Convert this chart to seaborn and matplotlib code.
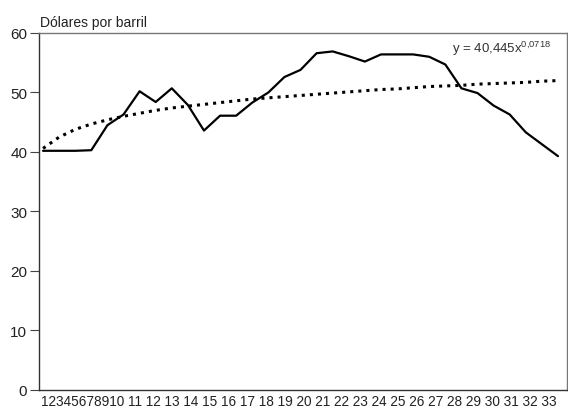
import numpy as np
import pandas as pd
import matplotlib
matplotlib.use("Agg")
import matplotlib.pyplot as plt
import seaborn as sns

# 数据：从参考图中读取
semanas = list(range(1, 34))
precio = [40.2, 40.2, 40.2, 40.3, 44.5, 46.3, 50.2, 48.4, 50.7, 47.9,
          43.6, 46.1, 46.1, 48.3, 50.0, 52.6, 53.8, 56.6, 56.9, 56.1,
          55.2, 56.4, 56.4, 56.4, 56.0, 54.7, 50.7, 49.9, 47.8, 46.3,
          43.3, 41.3, 39.3]
tendencia = [40.6, 42.5, 43.8, 44.7, 45.4, 46.0, 46.5, 47.0, 47.4, 47.7,
             48.0, 48.3, 48.6, 48.9, 49.1, 49.3, 49.5, 49.7, 49.9, 50.1,
             50.3, 50.5, 50.6, 50.8, 51.0, 51.1, 51.2, 51.4, 51.5, 51.6,
             51.7, 51.9, 52.0]
x_labels = [str(s) for s in semanas]
y_ticks = [0, 10, 20, 30, 40, 50, 60]
ecuacion = r"y = 40,445x$^{\mathregular{0{,}0718}}$"
titulo_y = "Dólares por barril"

df = pd.DataFrame({"semana": semanas, "precio": precio, "tendencia": tendencia})

sns.set_style("white")
plt.rcParams['font.family'] = ['Liberation Sans', 'DejaVu Sans']
plt.rcParams['mathtext.fontset'] = 'custom'
plt.rcParams['mathtext.rm'] = 'Liberation Sans'

fig = plt.figure(figsize=(5.68, 4.14), dpi=100)
ax = fig.add_axes([0.0687, 0.0556, 0.9287, 0.8623])

sns.lineplot(data=df, x="semana", y="tendencia", ax=ax, color="black",
             lw=2.2, linestyle=":")
sns.lineplot(data=df, x="semana", y="precio", ax=ax, color="black", lw=1.6)

ax.set_xlim(0.75, 33.53)
ax.set_ylim(0, 60)
ax.set_yticks(y_ticks)
ax.set_xticks([])
ax.set_xlabel("")
ax.set_ylabel("")
ax.tick_params(axis="y", left=True, length=6.5, width=0.8, color="#444444",
               pad=2, labelsize=11, labelcolor="#222222")

for side in ["left", "bottom"]:
    ax.spines[side].set_color("#333333")
    ax.spines[side].set_linewidth(1.0)
for side in ["top", "right"]:
    ax.spines[side].set_color("#777777")
    ax.spines[side].set_linewidth(1.0)

# fila de etiquetas del eje x, como en el original
fila = "".join(x_labels[:10]) + " " + " ".join(x_labels[10:])
ax.text(0.004, -0.012, fila, transform=ax.transAxes, ha="left", va="top",
        fontsize=9.8, color="#222222")

ax.text(0.002, 1.012, titulo_y, transform=ax.transAxes, ha="left",
        va="bottom", fontsize=10, color="#222222")
ax.text(0.971, 0.985, ecuacion, transform=ax.transAxes, ha="right",
        va="top", fontsize=9.5, color="#333333")

fig.savefig("out.png", dpi=100)
